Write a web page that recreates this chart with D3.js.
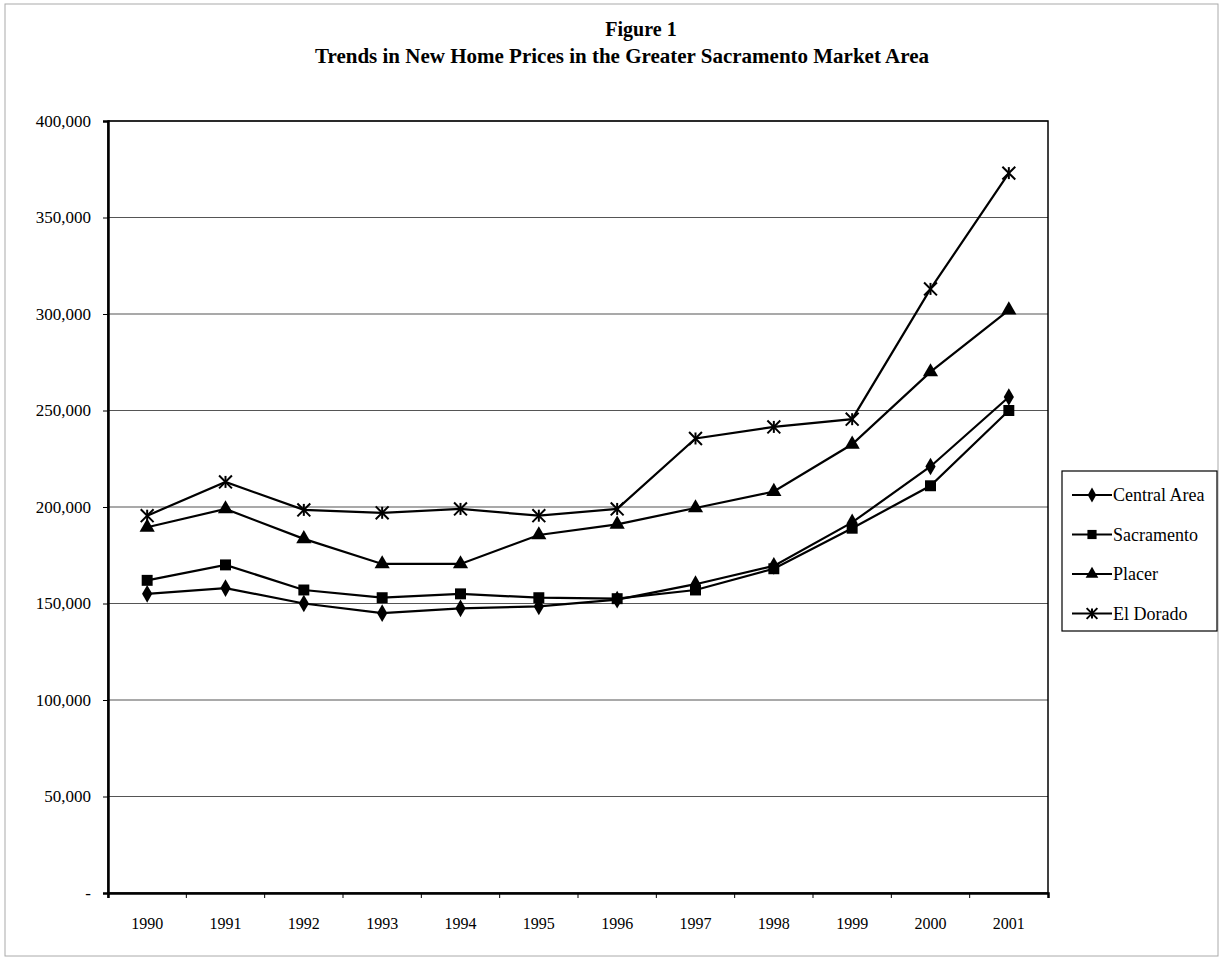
<!DOCTYPE html>
<html>
<head>
<meta charset="utf-8">
<script src="https://cdn.jsdelivr.net/npm/d3@7"></script>
<style>
  body { margin: 0; background: #fff; }
  svg text { font-family: "Liberation Serif", "Times New Roman", serif; fill: #000; }
</style>
</head>
<body>
<svg id="chart" width="1223" height="962"></svg>
<script>
const years = ["1990", "1991", "1992", "1993", "1994", "1995", "1996", "1997", "1998", "1999", "2000", "2001"];
const centralArea = [155000, 158000, 150000, 145000, 147500, 148500, 152000, 160000, 169500, 192000, 221000, 257000];
const sacramento = [162000, 170000, 157000, 153000, 155000, 153000, 152500, 157000, 168000, 189000, 211000, 250000];
const placer = [189500, 199000, 183500, 170500, 170500, 185500, 191000, 199500, 208000, 232500, 270000, 302000];
const elDorado = [195500, 213000, 198500, 197000, 199000, 195500, 199000, 235500, 241500, 245500, 313000, 373000];
const yTicks = [0, 50000, 100000, 150000, 200000, 250000, 300000, 350000, 400000];

const series = [
  { name: "Central Area", values: centralArea, marker: "diamond" },
  { name: "Sacramento", values: sacramento, marker: "square" },
  { name: "Placer", values: placer, marker: "triangle" },
  { name: "El Dorado", values: elDorado, marker: "star" }
];

const svg = d3.select("#chart");
const margin = { top: 121, left: 108, right: 1048, bottom: 893 };

const x = d3.scaleBand().domain(years).range([margin.left, margin.right]);
const y = d3.scaleLinear().domain([0, 400000]).range([margin.bottom, margin.top]);

// faint outer frame of the scanned page
svg.append("rect")
  .attr("x", 5).attr("y", 4).attr("width", 1213).attr("height", 952)
  .attr("fill", "none").attr("stroke", "#aaa").attr("stroke-width", 1);

// titles
svg.append("text").attr("x", 641).attr("y", 36).attr("text-anchor", "middle")
  .attr("font-size", 20).attr("font-weight", "bold").text("Figure 1");
svg.append("text").attr("x", 622).attr("y", 63).attr("text-anchor", "middle")
  .attr("font-size", 21).attr("font-weight", "bold")
  .text("Trends in New Home Prices in the Greater Sacramento Market Area");

// gridlines
svg.append("g").selectAll("line").data(yTicks.filter(d => d > 0)).join("line")
  .attr("x1", margin.left).attr("x2", margin.right)
  .attr("y1", d => y(d)).attr("y2", d => y(d))
  .attr("stroke", "#555").attr("stroke-width", 1.2);

// plot frame
svg.append("rect")
  .attr("x", margin.left).attr("y", margin.top)
  .attr("width", margin.right - margin.left).attr("height", margin.bottom - margin.top)
  .attr("fill", "none").attr("stroke", "#000").attr("stroke-width", 1.5);

// y axis
const yAxis = svg.append("g")
  .attr("transform", `translate(${margin.left},0)`)
  .call(d3.axisLeft(y).tickValues(yTicks).tickSize(5).tickPadding(12)
    .tickFormat(d => d === 0 ? "-" : d3.format(",")(d)));
yAxis.select(".domain").attr("stroke-width", 2.5);
yAxis.selectAll("text").attr("font-size", 17).attr("font-family", "Liberation Serif");

// x axis
const xAxis = svg.append("g")
  .attr("transform", `translate(0,${margin.bottom})`)
  .call(d3.axisBottom(x).tickSize(5).tickPadding(20));
xAxis.select(".domain").attr("stroke-width", 2.5);
xAxis.selectAll(".tick line").attr("transform", d => `translate(${-x.bandwidth() / 2},0)`);
xAxis.selectAll("text").attr("font-size", 16).attr("font-family", "Liberation Serif");

function drawMarker(g, type, cx, cy, k = 1) {
  if (type === "diamond") {
    g.append("path").attr("d", d3.symbol(d3.symbolDiamond, 90 * k)()).attr("transform", `translate(${cx},${cy})`).attr("fill", "#000");
  } else if (type === "square") {
    g.append("path").attr("d", d3.symbol(d3.symbolSquare, 120 * k)()).attr("transform", `translate(${cx},${cy})`).attr("fill", "#000");
  } else if (type === "triangle") {
    g.append("path").attr("d", d3.symbol(d3.symbolTriangle, 100 * k)()).attr("transform", `translate(${cx},${cy})`).attr("fill", "#000");
  } else {
    g.append("path").attr("d", d3.symbol(d3.symbolX, 110 * k)()).attr("transform", `translate(${cx},${cy})`)
      .attr("fill", "none").attr("stroke", "#000").attr("stroke-width", 2);
    g.append("line").attr("x1", cx).attr("x2", cx).attr("y1", cy - 6 * Math.sqrt(k)).attr("y2", cy + 6 * Math.sqrt(k))
      .attr("stroke", "#000").attr("stroke-width", 2);
  }
}

const line = d3.line()
  .x((d, i) => x(years[i]) + x.bandwidth() / 2)
  .y(d => y(d));

series.forEach(s => {
  const g = svg.append("g");
  g.append("path").datum(s.values).attr("d", line)
    .attr("fill", "none").attr("stroke", "#000").attr("stroke-width", 2.2);
  s.values.forEach((v, i) => drawMarker(g, s.marker, x(years[i]) + x.bandwidth() / 2, y(v)));
});

// legend
const legend = svg.append("g");
legend.append("rect").attr("x", 1062).attr("y", 471).attr("width", 155).attr("height", 160)
  .attr("fill", "#fff").attr("stroke", "#000").attr("stroke-width", 1.2);
series.forEach((s, i) => {
  const ly = 495 + i * 39.5;
  legend.append("line").attr("x1", 1072).attr("x2", 1112).attr("y1", ly).attr("y2", ly)
    .attr("stroke", "#000").attr("stroke-width", 2.2);
  drawMarker(legend, s.marker, 1092, ly, 0.7);
  legend.append("text").attr("x", 1113).attr("y", ly + 6).attr("font-size", 18).text(s.name);
});
</script>
</body>
</html>
